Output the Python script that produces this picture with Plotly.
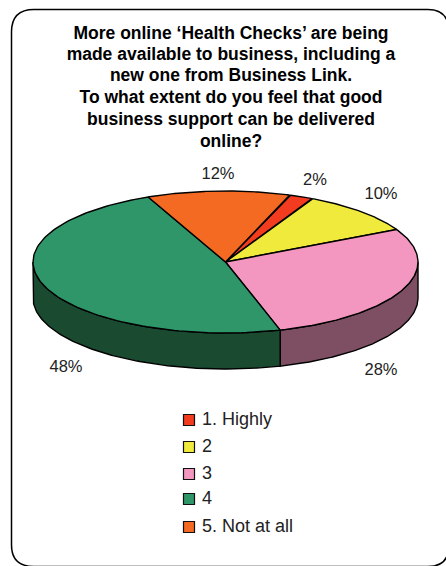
import numpy as np
import plotly.graph_objects as go

# Survey responses, in percent
categories = ["1. Highly", "2", "3", "4", "5. Not at all"]
values = [2, 10, 28, 48, 12]
top_colors = ["#f33c1f", "#f0ea3c", "#f397c0", "#2f9669", "#f56a22"]
side_colors = ["#8c2212", "#8a8722", "#7e4f63", "#1a4a30", "#8c3d13"]

title_lines = [
    "More online ‘Health Checks’ are being",
    "made available to business, including a",
    "new one from Business Link.",
    "To what extent do you feel that good",
    "business support can be delivered",
    "online?",
]

# Projected pie geometry, in page pixels
CX, CY, RX, RY, DEPTH = 225.5, 262.0, 192.5, 71.0, 36.0
START_DEG = 19.5
LINE = dict(color="#000000", width=1.4)


def rim(a0, a1, n=120):
    """Points along the ellipse between two clockwise-from-top angles."""
    t = np.radians(np.linspace(a0, a1, n))
    return CX + RX * np.sin(t), CY - RY * np.cos(t)


edges = START_DEG + np.concatenate([[0], np.cumsum(values)]) * 3.6

fig = go.Figure()

# Side wall: only the front half of the disc (90 to 270 degrees) is visible
for i, color in enumerate(side_colors):
    a0, a1 = max(edges[i], 90), min(edges[i + 1], 270)
    if a1 <= a0:
        continue
    x, y = rim(a0, a1)
    fig.add_trace(go.Scatter(
        x=np.concatenate([x, x[::-1], x[:1]]),
        y=np.concatenate([y, y[::-1] + DEPTH, y[:1]]),
        mode="lines", fill="toself", fillcolor=color, line=LINE,
        hoverinfo="skip", showlegend=False,
    ))

# Top face wedges
for i, color in enumerate(top_colors):
    x, y = rim(edges[i], edges[i + 1])
    fig.add_trace(go.Scatter(
        x=np.concatenate([[CX], x, [CX]]),
        y=np.concatenate([[CY], y, [CY]]),
        mode="lines", fill="toself", fillcolor=color, line=LINE,
        name=categories[i], hoverinfo="skip", showlegend=False,
    ))

# Percentage labels
label_x = [315, 381, 381, 66, 218]
label_y = [181, 195, 371, 368, 175]
fig.add_trace(go.Scatter(
    x=label_x, y=label_y, mode="text", text=[f"{v}%" for v in values],
    textposition="middle center",
    textfont=dict(family="Liberation Sans", size=16.5, color="#222222"),
    hoverinfo="skip", showlegend=False,
))

# Legend column
legend_y = [420, 447, 474, 499, 527]
fig.add_trace(go.Scatter(
    x=[189] * len(categories), y=legend_y, mode="markers",
    marker=dict(symbol="square", size=11, color=top_colors,
                line=dict(color="#111111", width=1.2)),
    hoverinfo="skip", showlegend=False,
))
fig.add_trace(go.Scatter(
    x=[202] * len(categories), y=legend_y, mode="text", text=categories,
    textposition="middle right",
    textfont=dict(family="Liberation Sans", size=18, color="#222222"),
    hoverinfo="skip", showlegend=False,
))

# Bold heading, one line at a time
title_y = [35, 56, 77, 99, 121, 143]
fig.add_trace(go.Scatter(
    x=[231] * len(title_lines), y=title_y, mode="text", text=title_lines,
    textposition="middle center",
    textfont=dict(family="Liberation Sans", size=17.5, color="#000000", weight="bold"),
    hoverinfo="skip", showlegend=False,
))

fig.update_layout(
    width=446, height=566, margin=dict(l=0, r=0, t=0, b=0),
    paper_bgcolor="#ffffff", plot_bgcolor="#ffffff",
    xaxis=dict(range=[0, 446], visible=False, fixedrange=True),
    yaxis=dict(range=[566, 0], visible=False, fixedrange=True),
    shapes=[dict(
        type="path",
        path="M 11.5 32 Q 11.5 9.5 34 9.5 L 428 9.5 Q 449 9.5 449 32 "
             "L 449 545 Q 449 566.5 428 566.5 L 34 566.5 Q 11.5 566.5 11.5 545 Z",
        line=dict(color="#000000", width=1.5), layer="below",
    )],
)

fig.write_html("out.html", config=dict(displayModeBar=False))
